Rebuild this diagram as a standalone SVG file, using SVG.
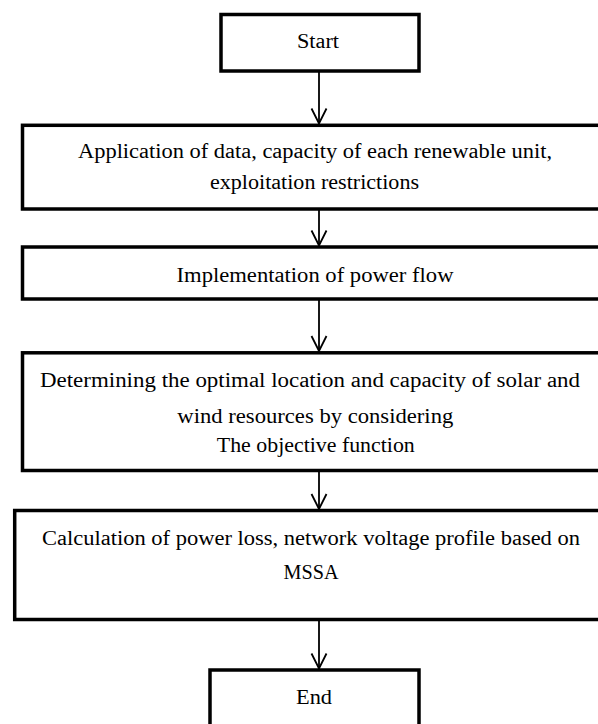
<svg xmlns="http://www.w3.org/2000/svg" width="598" height="724" viewBox="0 0 598 724">
  <style>
    .box { fill: #ffffff; stroke: #000000; stroke-width: 3.5; }
    .lbl { font-family: "Liberation Serif", "Times New Roman", serif; font-size: 20px; fill: #000000; text-anchor: middle; }
    .conn { stroke: #000000; stroke-width: 1.8; fill: none; }
  </style>
  <defs>
    <marker id="arr" viewBox="-16 -9 17 18" markerWidth="17" markerHeight="18" refX="0" refY="0" orient="auto" markerUnits="userSpaceOnUse">
      <path d="M-15,-7.5 L0,0 L-15,7.5" fill="none" stroke="#000000" stroke-width="1.8"/>
    </marker>
  </defs>
  <rect width="598" height="724" fill="#ffffff"/>

  <g id="connectors">
    <line class="conn" x1="319" y1="72" x2="319" y2="123.5" marker-end="url(#arr)"/>
    <line class="conn" x1="319" y1="210" x2="319" y2="245.5" marker-end="url(#arr)"/>
    <line class="conn" x1="319" y1="300" x2="319" y2="351" marker-end="url(#arr)"/>
    <line class="conn" x1="319" y1="472" x2="319" y2="509" marker-end="url(#arr)"/>
    <line class="conn" x1="319" y1="620" x2="319" y2="668.5" marker-end="url(#arr)"/>
  </g>

  <g id="start">
    <rect class="box" x="221" y="14.5" width="198" height="56.5"/>
    <text class="lbl" x="318" y="47.7" textLength="42" lengthAdjust="spacingAndGlyphs">Start</text>
  </g>

  <g id="apply-data">
    <rect class="box" x="22.5" y="125.3" width="590" height="83.7"/>
    <text class="lbl" x="315" y="158" textLength="474" lengthAdjust="spacingAndGlyphs">Application of data, capacity of each renewable unit,</text>
    <text class="lbl" x="314.5" y="189.3" textLength="209" lengthAdjust="spacingAndGlyphs">exploitation restrictions</text>
  </g>

  <g id="power-flow">
    <rect class="box" x="22.5" y="247" width="590" height="52"/>
    <text class="lbl" x="315" y="282" textLength="277" lengthAdjust="spacingAndGlyphs">Implementation of power flow</text>
  </g>

  <g id="optimal">
    <rect class="box" x="22.5" y="352.8" width="590" height="117.7"/>
    <text class="lbl" x="310" y="386.7" textLength="540" lengthAdjust="spacingAndGlyphs">Determining the optimal location and capacity of solar and</text>
    <text class="lbl" x="315.3" y="422.7" textLength="276" lengthAdjust="spacingAndGlyphs">wind resources by considering</text>
    <text class="lbl" x="315.8" y="451.7" textLength="198" lengthAdjust="spacingAndGlyphs">The objective function</text>
  </g>

  <g id="calc">
    <rect class="box" x="14.7" y="510.5" width="600" height="109"/>
    <text class="lbl" x="311" y="545" textLength="538" lengthAdjust="spacingAndGlyphs">Calculation of power loss, network voltage profile based on</text>
    <text class="lbl" x="311" y="579" textLength="55" lengthAdjust="spacingAndGlyphs">MSSA</text>
  </g>

  <g id="end">
    <rect class="box" x="210" y="670" width="209" height="70"/>
    <text class="lbl" x="314" y="704" textLength="36" lengthAdjust="spacingAndGlyphs">End</text>
  </g>
</svg>
